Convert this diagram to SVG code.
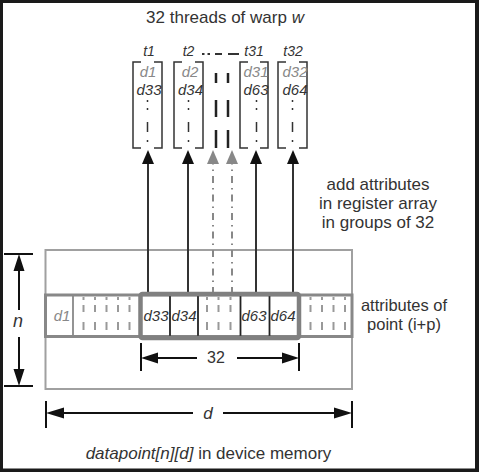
<svg xmlns="http://www.w3.org/2000/svg" width="479" height="472" viewBox="0 0 479 472">
<style>
text{font-family:"Liberation Sans",Arial,sans-serif;fill:#333}
.it{font-style:italic}
.lbl{font-size:17px}
.tl{font-size:14px;font-style:italic;text-anchor:middle}
.dl{font-size:15px;font-style:italic;text-anchor:middle}
.gr{fill:#888}
.br{fill:none;stroke:#333;stroke-width:1.5}
.dots{stroke:#333;stroke-width:1.5;stroke-dasharray:2 6 2 12 10 8 2 100}
.mid{stroke:#222;stroke-width:2.5}
.rowdash{stroke:#999;stroke-width:2;stroke-dasharray:3 5 7 10 8 30}
.sep{stroke:#222;stroke-width:1.8}
.up{stroke:#333;stroke-width:2;marker-end:url(#ah)}
.upg{stroke:#888;stroke-width:2;stroke-dasharray:7 5 1.5 5;marker-end:url(#ahg)}
.dim{stroke:#111;stroke-width:2;fill:none}
.head{fill:#111}
</style>
<defs>
<marker id="ah" markerUnits="userSpaceOnUse" viewBox="0 0 14 12" refX="0" refY="6" markerWidth="14" markerHeight="12" orient="auto"><path d="M0,0 L14,6 L0,12 z" fill="#111"/></marker>
<marker id="ahg" markerUnits="userSpaceOnUse" viewBox="0 0 14 12" refX="0" refY="6" markerWidth="14" markerHeight="12" orient="auto"><path d="M0,0 L14,6 L0,12 z" fill="#888"/></marker>
</defs>
<rect x="0" y="0" width="479" height="472" fill="#fff"/>
<g id="frame" fill="#1a1a1a">
<rect x="0" y="0" width="479" height="3"/>
<rect x="0" y="0" width="3" height="472"/>
<rect x="475" y="0" width="4" height="472"/>
<rect x="0" y="468.5" width="479" height="3.5"/>
</g>
<text id="title" class="lbl" x="225" y="22.5" text-anchor="middle">32 threads of warp <tspan class="it">w</tspan></text>
<g id="thread-t1">
<text class="tl" x="149" y="56">t1</text>
<path class="br" d="M141,62 H133 V148 H141 M154,62 H162 V148 H154"/>
<text class="dl gr" x="148" y="76.5">d1</text>
<text class="dl" x="149" y="95">d33</text>
<line class="dots" x1="147.5" y1="100" x2="147.5" y2="144"/>
</g>
<g id="thread-t2">
<text class="tl" x="188.5" y="56">t2</text>
<path class="br" d="M182,62 H174 V148 H182 M195,62 H203 V148 H195"/>
<text class="dl gr" x="190" y="76.5">d2</text>
<text class="dl" x="190.5" y="95">d34</text>
<line class="dots" x1="188.5" y1="100" x2="188.5" y2="144"/>
</g>
<g id="thread-gap">
<path d="M202,54 H204.5 M207.5,54 H210 M215,54 H222 M228,54 H239" stroke="#333" stroke-width="2" fill="none"/>
<path class="mid" d="M216,73 V83 M216,100 V117 M216,130 V148 M228,73 V83 M228,100 V117 M228,130 V148"/>
</g>
<g id="thread-t31">
<text class="tl" x="254" y="56">t31</text>
<path class="br" d="M248,62 H240 V148 H248 M260,62 H268 V148 H260"/>
<text class="dl gr" x="256" y="76.5">d31</text>
<text class="dl" x="256" y="95">d63</text>
<line class="dots" x1="256.5" y1="100" x2="256.5" y2="144"/>
</g>
<g id="thread-t32">
<text class="tl" x="293" y="56">t32</text>
<path class="br" d="M286,62 H278 V148 H286 M299,62 H307 V148 H299"/>
<text class="dl gr" x="295" y="76.5">d32</text>
<text class="dl" x="295" y="95">d64</text>
<line class="dots" x1="292.5" y1="100" x2="292.5" y2="144"/>
</g>
<text id="note-add" class="lbl" text-anchor="middle"><tspan x="378" y="190">add attributes</tspan><tspan x="378" y="209">in register array</tspan><tspan x="378" y="227.5">in groups of 32</tspan></text>
<g id="memory">
<rect x="45.5" y="250" width="306.5" height="139" fill="none" stroke="#a0a0a0" stroke-width="2"/>
</g>
<g id="connectors">
<line class="up" x1="148" y1="294" x2="148" y2="164"/>
<line class="up" x1="188" y1="294" x2="188" y2="164"/>
<line class="upg" x1="213" y1="294" x2="213" y2="164"/>
<line class="upg" x1="232" y1="294" x2="232" y2="164"/>
<line class="up" x1="256" y1="294" x2="256" y2="164"/>
<line class="up" x1="293" y1="294" x2="293" y2="164"/>
</g>
<g id="row">
<rect x="45.5" y="295" width="306.5" height="41.5" fill="#fff" stroke="#888" stroke-width="3"/>
<line x1="73" y1="296" x2="73" y2="336" stroke="#888" stroke-width="1.8"/>
<g>
<line class="rowdash" x1="83.5" y1="297" x2="83.5" y2="334"/>
<line class="rowdash" x1="95" y1="297" x2="95" y2="334"/>
<line class="rowdash" x1="106.5" y1="297" x2="106.5" y2="334"/>
<line class="rowdash" x1="118" y1="297" x2="118" y2="334"/>
<line class="rowdash" x1="129.5" y1="297" x2="129.5" y2="334"/>
<line class="rowdash" x1="207" y1="297" x2="207" y2="334"/>
<line class="rowdash" x1="218.5" y1="297" x2="218.5" y2="334"/>
<line class="rowdash" x1="230.5" y1="297" x2="230.5" y2="334"/>
<line class="rowdash" x1="310.5" y1="297" x2="310.5" y2="334"/>
<line class="rowdash" x1="322" y1="297" x2="322" y2="334"/>
<line class="rowdash" x1="333.5" y1="297" x2="333.5" y2="334"/>
<line class="rowdash" x1="345" y1="297" x2="345" y2="334"/>
</g>
<line class="sep" x1="170" y1="296" x2="170" y2="336"/>
<line class="sep" x1="198" y1="296" x2="198" y2="336"/>
<line class="sep" x1="240.5" y1="296" x2="240.5" y2="336"/>
<line class="sep" x1="269.5" y1="296" x2="269.5" y2="336"/>
<rect x="140.5" y="294" width="158.5" height="44" rx="2" fill="none" stroke="#808080" stroke-width="4.5"/>
<text class="dl gr" x="62" y="321">d1</text>
<text class="dl" x="156" y="321">d33</text>
<text class="dl" x="184" y="321">d34</text>
<text class="dl" x="254" y="321">d63</text>
<text class="dl" x="283" y="321">d64</text>
</g>
<text id="note-point" font-size="16.5" text-anchor="middle"><tspan x="404" y="311">attributes of</tspan><tspan x="404" y="329.5">point (i+p)</tspan></text>
<g id="dim-32">
<path class="dim" d="M141,343 V371 M299,343 V371 M157,358 H197 M237,358 H283"/>
<path class="head" d="M141,358 L158,352.5 L158,363.5 z M299,358 L282,352.5 L282,363.5 z"/>
<text x="216" y="362.5" font-size="16" text-anchor="middle">32</text>
</g>
<g id="dim-n">
<path class="dim" d="M4,254 H33 M4,386 H33 M19,270 V310 M19,337 V370"/>
<path class="head" d="M19,254 L13.5,271 L24.5,271 z M19,386 L13.5,369 L24.5,369 z"/>
<text class="it" x="18" y="327" font-size="18" text-anchor="middle">n</text>
</g>
<g id="dim-d">
<path class="dim" d="M46,401 V428 M352,401 V428 M62,413 H193 M223,413 H336"/>
<path class="head" d="M46,413 L64,407.5 L64,418.5 z M352,413 L334,407.5 L334,418.5 z"/>
<text class="it" x="208" y="419" font-size="17" text-anchor="middle">d</text>
</g>
<text id="caption" class="lbl" x="208.5" y="458.5" text-anchor="middle"><tspan class="it">datapoint[n][d]</tspan> in device memory</text>
</svg>
